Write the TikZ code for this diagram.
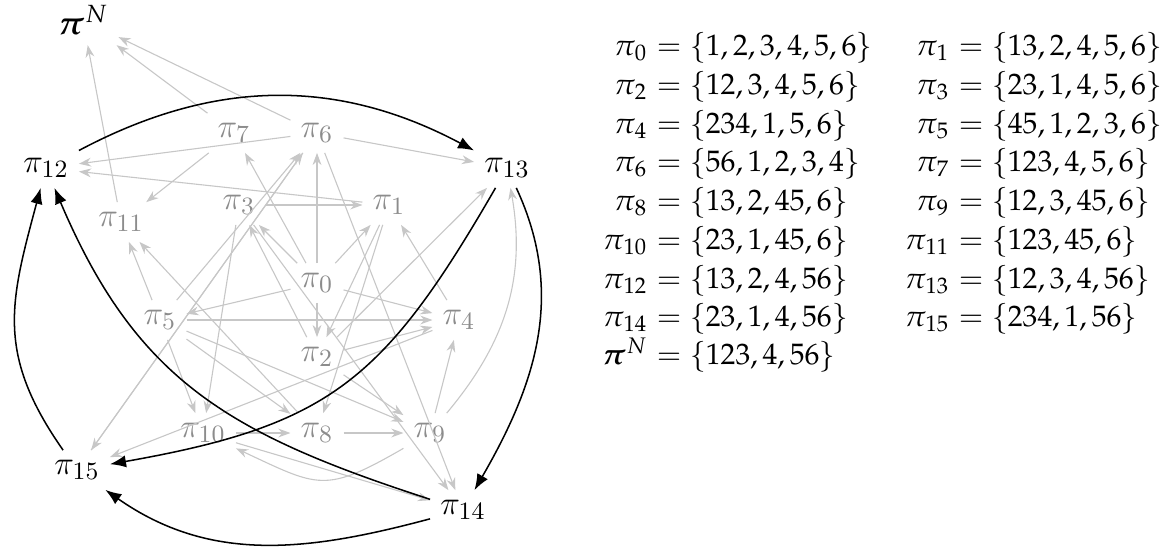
\documentclass[tikz,border=0pt]{standalone}
\usepackage{amsmath}
\usepackage{mathpazo}
\usetikzlibrary{arrows.meta}
\DeclareSymbolFont{cmlet}{OML}{cmm}{m}{it}
\DeclareMathSymbol{\cmpi}{\mathord}{cmlet}{"19}
\DeclareMathAlphabet{\mathcmr}{OT1}{cmr}{m}{n}
\newcommand{\gp}[1]{\cmpi_{\mathcmr{#1}}}
\tikzset{
  gnode/.style={text=black!45, inner sep=3.5pt, font=\fontsize{12}{14}\selectfont},
  bnode/.style={text=black, inner sep=3.5pt, font=\fontsize{12}{14}\selectfont},
  garrow/.style={draw=black!22, line width=0.4pt, -{Stealth[length=4.4pt,width=3.2pt]}},
  barrow/.style={draw=black, line width=0.55pt, -{Latex[length=5.8pt,width=4.4pt]}},
  lhs/.style={anchor=base east, inner sep=0pt, font=\fontsize{10.7}{12.8}\selectfont},
  rhs/.style={anchor=base west, inner sep=0pt, font=\fontsize{10.7}{12.8}\selectfont}
}
\begin{document}
\begin{tikzpicture}[x=0.3614pt, y=0.3614pt]
\useasboundingbox (0,0) rectangle (1175,-559);
% graph nodes
\node[bnode] (pN) at (83,-20) {$\boldsymbol{\pi}^N$};
\node[gnode] (p7) at (234,-133) {$\gp{7}$};
\node[gnode] (p6) at (317,-133) {$\gp{6}$};
\node[bnode] (p12) at (46,-168) {$\gp{12}$};
\node[bnode] (p13) at (507,-168) {$\gp{13}$};
\node[gnode] (p11) at (121,-222) {$\gp{11}$};
\node[gnode] (p3) at (239,-205) {$\gp{3}$};
\node[gnode] (p1) at (389,-205) {$\gp{1}$};
\node[gnode] (p0) at (317,-283) {$\gp{0}$};
\node[gnode] (p5) at (160,-320) {$\gp{5}$};
\node[gnode] (p4) at (459,-320) {$\gp{4}$};
\node[gnode] (p2) at (317,-357) {$\gp{2}$};
\node[gnode] (p10) at (203,-433) {$\gp{10}$};
\node[gnode] (p8) at (317,-433) {$\gp{8}$};
\node[gnode] (p9) at (430,-433) {$\gp{9}$};
\node[bnode] (p15) at (77,-470) {$\gp{15}$};
\node[bnode] (p14) at (463,-510) {$\gp{14}$};
% gray edges
\foreach \a/\b in {p0/p1,p0/p2,p0/p3,p0/p4,p0/p5,p0/p6,p0/p7,
  p1/p2,p1/p8,p1/p12,
  p2/p3,p2/p4,p2/p9,p2/p13,
  p3/p1,p3/p10,p3/p14,
  p4/p1,p4/p15,
  p5/p4,p5/p6,p5/p8,p5/p9,p5/p10,p5/p11,
  p6/pN,p6/p12,p6/p13,p6/p14,p6/p15,
  p15/p6,
  p7/pN,p7/p11,
  p8/p9,p8/p11,
  p9/p4,
  p10/p8,p10/p14,
  p11/pN}
  \draw[garrow] (\a) -- (\b);
\draw[garrow] (p9) to[out=210,in=335,looseness=1.4] (p10);
\draw[garrow] (p9) to[out=50,in=-80] (p13);
% black edges
\draw[barrow] (p12) to[out=28,in=152] (p13);
\draw[barrow] (p13) to[out=-65,in=60] (p14);
\draw[barrow] (p13) to[out=240,in=10,looseness=1.2] (p15);
\draw[barrow] (p14) to[out=162,in=-67,looseness=1.1] (p12);
\draw[barrow] (p15) to[out=125,in=255,looseness=1.15] (p12);
\draw[barrow] (p14) to[out=195,in=-35] (p15);
% equations
\def\xl{648}\def\xr{950}
\node[lhs] (l0) at (\xl,-55) {$\pi_0$};   \node[rhs] (r0) at (\xl,-55) {${}=\{1,2,3,4,5,6\}$};
\node[lhs] (l1) at (\xr,-55) {$\pi_1$};   \node[rhs] (r1) at (\xr,-55) {${}=\{13,2,4,5,6\}$};
\node[lhs] (l2) at (\xl,-94) {$\pi_2$};   \node[rhs] (r2) at (\xl,-94) {${}=\{12,3,4,5,6\}$};
\node[lhs] (l3) at (\xr,-94) {$\pi_3$};   \node[rhs] (r3) at (\xr,-94) {${}=\{23,1,4,5,6\}$};
\node[lhs] (l4) at (\xl,-133) {$\pi_4$};  \node[rhs] (r4) at (\xl,-133) {${}=\{234,1,5,6\}$};
\node[lhs] (l5) at (\xr,-133) {$\pi_5$};  \node[rhs] (r5) at (\xr,-133) {${}=\{45,1,2,3,6\}$};
\node[lhs] (l6) at (\xl,-171) {$\pi_6$};  \node[rhs] (r6) at (\xl,-171) {${}=\{56,1,2,3,4\}$};
\node[lhs] (l7) at (\xr,-171) {$\pi_7$};  \node[rhs] (r7) at (\xr,-171) {${}=\{123,4,5,6\}$};
\node[lhs] (l8) at (\xl,-210) {$\pi_8$};  \node[rhs] (r8) at (\xl,-210) {${}=\{13,2,45,6\}$};
\node[lhs] (l9) at (\xr,-210) {$\pi_9$};  \node[rhs] (r9) at (\xr,-210) {${}=\{12,3,45,6\}$};
\node[lhs] (l10) at (\xl,-249) {$\pi_{10}$}; \node[rhs] (r10) at (\xl,-249) {${}=\{23,1,45,6\}$};
\node[lhs] (l11) at (\xr,-249) {$\pi_{11}$}; \node[rhs] (r11) at (\xr,-249) {${}=\{123,45,6\}$};
\node[lhs] (l12) at (\xl,-288) {$\pi_{12}$}; \node[rhs] (r12) at (\xl,-288) {${}=\{13,2,4,56\}$};
\node[lhs] (l13) at (\xr,-288) {$\pi_{13}$}; \node[rhs] (r13) at (\xr,-288) {${}=\{12,3,4,56\}$};
\node[lhs] (l14) at (\xl,-326) {$\pi_{14}$}; \node[rhs] (r14) at (\xl,-326) {${}=\{23,1,4,56\}$};
\node[lhs] (l15) at (\xr,-326) {$\pi_{15}$}; \node[rhs] (r15) at (\xr,-326) {${}=\{234,1,56\}$};
\node[lhs] (lN) at (\xl,-364) {$\boldsymbol{\pi}^N$}; \node[rhs] (rN) at (\xl,-364) {${}=\{123,4,56\}$};
\end{tikzpicture}
\end{document}
